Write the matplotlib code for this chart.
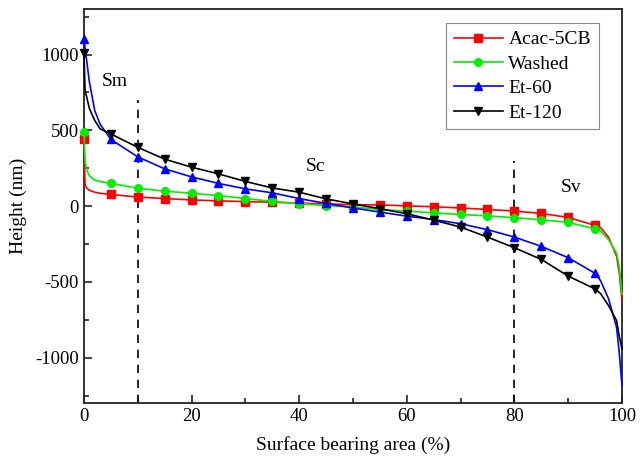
import matplotlib.pyplot as plt
from matplotlib.ticker import MultipleLocator

plt.rcParams['font.family'] = ['Liberation Serif', 'DejaVu Serif']
plt.rcParams['axes.unicode_minus'] = False

# surface bearing area (%) - denser near the two ends where curves bend sharply
area = [0, 0.2, 0.5, 1, 2, 3, 5, 10, 15, 20, 25, 30, 35, 40, 45, 50, 55, 60,
        65, 70, 75, 80, 85, 90, 95, 96, 97.5, 99, 99.5, 100]

acac_5cb = [445, 140, 120, 105, 92, 85, 77, 60, 50, 41, 35, 30, 26, 20, 15, 10,
            8, 2, -4, -12, -22, -32, -48, -74, -127, -140, -205, -330, -440, -620]
washed = [490, 300, 240, 200, 172, 162, 151, 118, 99, 85, 70, 50, 32, 17, 3, -5,
          -22, -33, -44, -55, -64, -76, -90, -107, -150, -162, -220, -310, -400, -580]
et_60 = [1105, 1040, 960, 820, 630, 540, 440, 325, 246, 193, 150, 114, 88, 50, 18,
         -12, -39, -66, -88, -116, -155, -204, -265, -340, -443, -490, -610, -800,
         -970, -1180]
et_120 = [1010, 760, 720, 645, 565, 510, 476, 388, 310, 257, 213, 163, 120, 92, 48,
          15, -17, -50, -92, -138, -204, -274, -351, -461, -546, -576, -655, -755,
          -860, -940]

series = [
    ('Acac-5CB', acac_5cb, '#ff0000', 's'),
    ('Washed', washed, '#00ee00', 'o'),
    ('Et-60', et_60, '#0000ff', '^'),
    ('Et-120', et_120, '#000000', 'v'),
]

# markers every 5 %
mark_idx = [i for i, a in enumerate(area) if a % 5 == 0 and a < 100]

fig = plt.figure(figsize=(6.44, 4.65), dpi=100)
ax = fig.add_axes([0.1304, 0.1327, 0.8354, 0.8479])

for name, vals, col, mk in series:
    ax.plot(area, vals, color=col, lw=1.2, marker=mk, ms=5.5,
            markevery=mark_idx, label=name, clip_on=False, zorder=3)

# region boundaries
ax.plot([10, 10], [-1300, 700], ls=(0, (5, 4)), color='black', lw=1.2)
ax.plot([80, 80], [-1300, 300], ls=(0, (5, 4)), color='black', lw=1.2)

ax.text(5.7, 820, 'Sm', fontsize=14, ha='center', va='center')
ax.text(43, 262, 'Sc', fontsize=14, ha='center', va='center')
ax.text(90.5, 120, 'Sv', fontsize=14, ha='center', va='center')

ax.set_xlim(0, 100)
ax.set_ylim(-1300, 1300)
ax.xaxis.set_major_locator(MultipleLocator(20))
ax.xaxis.set_minor_locator(MultipleLocator(10))
ax.yaxis.set_major_locator(MultipleLocator(500))
ax.yaxis.set_minor_locator(MultipleLocator(250))
ax.tick_params(which='both', direction='in', top=False, right=False,
               labelsize=13.5, width=1.2, color='#222222')
ax.tick_params(which='major', length=6)
ax.tick_params(which='minor', length=3.5)
for sp in ax.spines.values():
    sp.set_linewidth(1.3)
    sp.set_color('#222222')

ax.set_xlabel('Surface bearing area (%)', fontsize=14, labelpad=8)
ax.set_ylabel('Height (nm)', fontsize=14, labelpad=6)

leg = ax.legend(loc='upper right', bbox_to_anchor=(0.957, 0.9645), fontsize=14,
                fancybox=False, framealpha=1, edgecolor='#888888',
                handlelength=2.5, borderaxespad=0, labelspacing=0.35,
                handletextpad=0.3, borderpad=0.4)
leg.get_frame().set_linewidth(0.8)

fig.savefig('out.png', dpi=100)
